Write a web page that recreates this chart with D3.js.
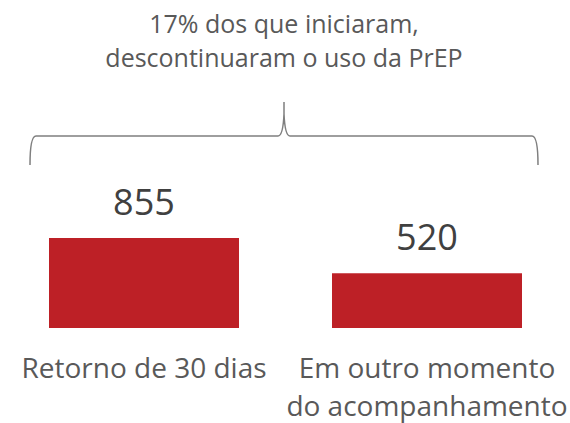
<!DOCTYPE html>
<html>
<head>
<meta charset="utf-8">
<script src="https://cdn.jsdelivr.net/npm/d3@7"></script>
<style>
  body { margin: 0; background: #fff; }
  text { font-family: "Open Sans", sans-serif; }
</style>
</head>
<body>
<svg id="drawing_region"></svg>
<script>
const categories = ["Retorno de 30 dias", "Em outro momento\ndo acompanhamento"];
const values = [855, 520];
const title_lines = ["17% dos que iniciaram,", "descontinuaram o uso da PrEP"];

const width = 570, height = 423;
const base_y = 328;

const svg = d3.select('#drawing_region')
    .attr('width', width)
    .attr('height', height);

const xscale = d3.scaleBand()
    .domain(categories)
    .range([49, 522])
    .paddingInner(0.3286)
    .paddingOuter(0);

const yscale = d3.scaleLinear()
    .domain([0, 855])
    .range([base_y, 238]);

// bars
svg.selectAll('rect.bar')
    .data(values)
    .enter()
    .append('rect')
    .attr('class', 'bar')
    .attr('x', (d, i) => xscale(categories[i]))
    .attr('y', d => yscale(d))
    .attr('width', xscale.bandwidth())
    .attr('height', d => base_y - yscale(d))
    .attr('fill', '#BD2026');

// value labels
svg.selectAll('text.value')
    .data(values)
    .enter()
    .append('text')
    .attr('class', 'value')
    .attr('x', (d, i) => xscale(categories[i]) + xscale.bandwidth() / 2)
    .attr('y', d => yscale(d) - 23)
    .attr('text-anchor', 'middle')
    .attr('font-size', 36)
    .attr('fill', '#404040')
    .text(d => d);

// category labels
categories.forEach((c, i) => {
    const t = svg.append('text')
        .attr('x', xscale(c) + xscale.bandwidth() / 2)
        .attr('y', 378)
        .attr('text-anchor', 'middle')
        .attr('font-size', 28)
        .attr('fill', '#595959');
    c.split('\n').forEach((line, j) => {
        t.append('tspan')
            .attr('x', xscale(c) + xscale.bandwidth() / 2)
            .attr('dy', j == 0 ? 0 : 38)
            .text(line);
    });
});

// brace
const left = xscale(categories[0]) - 19;
const right = xscale(categories[1]) + xscale.bandwidth() + 16;
const mid = (left + right) / 2;
const top_y = 136, end_y = 165, tip_y = 102;
const p = d3.path();
p.moveTo(left, end_y);
p.quadraticCurveTo(left, top_y, left + 6, top_y);
p.lineTo(mid - 6, top_y);
p.quadraticCurveTo(mid - 1, top_y, mid, tip_y + 12);
p.lineTo(mid, tip_y);
p.moveTo(mid, tip_y + 12);
p.quadraticCurveTo(mid + 1, top_y, mid + 6, top_y);
p.lineTo(right - 6, top_y);
p.quadraticCurveTo(right, top_y, right, end_y);
svg.append('path')
    .attr('d', p.toString())
    .attr('fill', 'none')
    .attr('stroke', '#7f7f7f')
    .attr('stroke-width', 1.5);

// title
svg.selectAll('text.title')
    .data(title_lines)
    .enter()
    .append('text')
    .attr('class', 'title')
    .attr('x', mid)
    .attr('y', (d, i) => 33 + i * 34)
    .attr('text-anchor', 'middle')
    .attr('font-size', 25)
    .attr('fill', '#595959')
    .text(d => d);
</script>
</body>
</html>
